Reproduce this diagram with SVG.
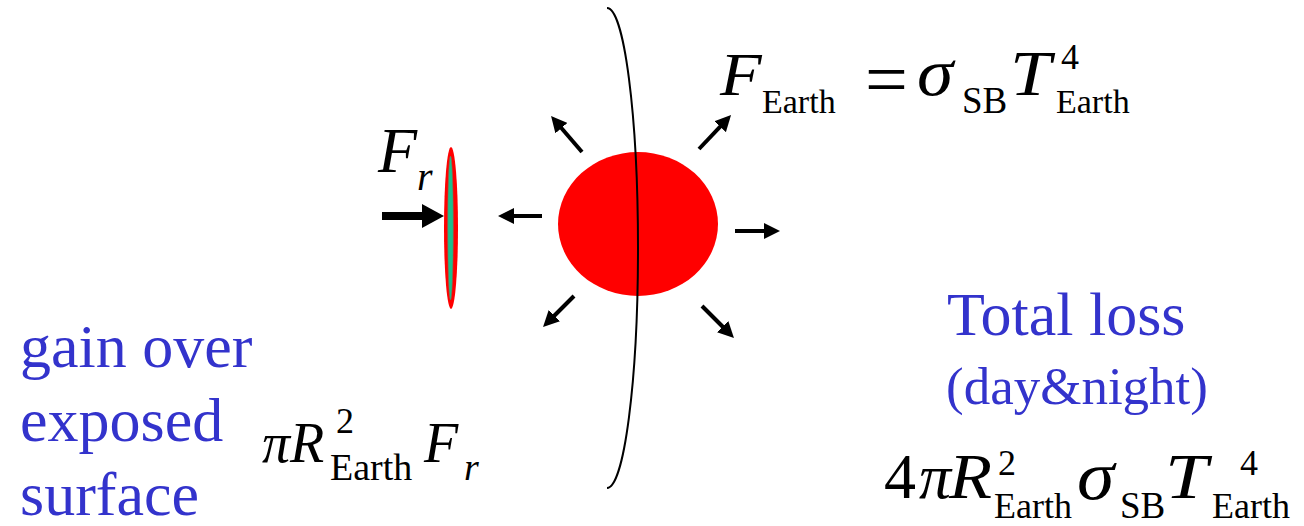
<svg xmlns="http://www.w3.org/2000/svg" width="1304" height="526" viewBox="0 0 1304 526">
<style>
.t{fill:#000}
.i{font-style:italic}
.blue{fill:#3333CC}
.arr{stroke:#000;stroke-width:4;fill:none}
</style>
<defs>
<marker id="ah" viewBox="0 0 4 4" refX="0.3" refY="2" markerWidth="4" markerHeight="4" markerUnits="strokeWidth" orient="auto">
<path d="M0,0 L4,2 L0,4 z" fill="#000"/>
</marker>
<marker id="ahb" viewBox="0 0 2.75 3" refX="0.1" refY="1.5" markerWidth="2.75" markerHeight="3" markerUnits="strokeWidth" orient="auto">
<path d="M0,0 L2.75,1.5 L0,3 z" fill="#000"/>
</marker>
</defs>
<rect width="1304" height="526" fill="#fff"/>

<g id="earth">
<ellipse cx="638" cy="224" rx="80" ry="72" fill="#FF0000"/>
</g>
<g id="terminator">
<path d="M607,8 A31,240 0 0 1 607,488" fill="none" stroke="#000" stroke-width="2"/>
</g>
<g id="disk">
<ellipse cx="451" cy="228" rx="7" ry="81" fill="#FF0000"/>
<ellipse cx="450.5" cy="228" rx="2.8" ry="72" fill="#1CBF8C" stroke="#8a6a50" stroke-width="0.6"/>
</g>

<g id="connectors">
<line class="arr" x1="582" y1="152" x2="560.7" y2="127.2" marker-end="url(#ah)"/>
<line class="arr" x1="699" y1="149" x2="720.9" y2="125.8" marker-end="url(#ah)"/>
<line class="arr" x1="574" y1="296" x2="553.5" y2="316.5" marker-end="url(#ah)"/>
<line class="arr" x1="702" y1="306" x2="723.5" y2="327.5" marker-end="url(#ah)"/>
<line class="arr" x1="542" y1="216" x2="512.8" y2="216" marker-end="url(#ah)"/>
<line class="arr" x1="735" y1="231" x2="765.2" y2="231" marker-end="url(#ah)"/>
<line x1="382" y1="216" x2="422.8" y2="216" stroke="#000" stroke-width="8" marker-end="url(#ahb)"/>
</g>

<g font-family="Liberation Serif, Tinos, Times New Roman, Times, serif">
<g id="label-Fr">
<text class="t i" x="378" y="172" font-size="64">F</text>
<text class="t i" x="417" y="190" font-size="40">r</text>
</g>

<g id="label-FEarth">
<text class="t i" font-size="62" transform="translate(720,95) scale(1.1,1)">F</text>
<text class="t" x="762" y="113" font-size="34">Earth</text>
<text class="t" x="865" y="105" font-size="76">=</text>
<text class="t i" font-size="68" transform="translate(917,95) scale(1.08,1)">σ</text>
<text class="t" x="962" y="113" font-size="37">SB</text>
<text class="t i" font-size="64" transform="translate(1010,95) scale(1.15,1)">T</text>
<text class="t" x="1061" y="69" font-size="36">4</text>
<text class="t" x="1056" y="113" font-size="34">Earth</text>
</g>

<g id="label-gain">
<text class="blue" x="20" y="367" font-size="62">gain over</text>
<text class="blue" x="20" y="441" font-size="62">exposed</text>
<text class="blue" x="20" y="515" font-size="62">surface</text>
</g>

<g id="formula-gain">
<text class="t i" x="262" y="462" font-size="56">π</text>
<text class="t i" x="290" y="462" font-size="56">R</text>
<text class="t" x="336" y="433" font-size="36">2</text>
<text class="t" x="330" y="480" font-size="38">Earth</text>
<text class="t i" x="424" y="462" font-size="56">F</text>
<text class="t i" x="464" y="480" font-size="38">r</text>
</g>

<g id="label-loss">
<text class="blue" x="947" y="335" font-size="62">Total loss</text>
<text class="blue" x="946" y="404" font-size="53">(day&amp;night)</text>
</g>

<g id="formula-loss">
<text class="t" x="884" y="498" font-size="64">4</text>
<text class="t i" x="919" y="498" font-size="64">π</text>
<text class="t i" font-size="64" transform="translate(949,498) scale(1.1,1)">R</text>
<text class="t" x="998" y="475" font-size="36">2</text>
<text class="t" x="994" y="518" font-size="36">Earth</text>
<text class="t i" font-size="70" transform="translate(1077,499) scale(1.08,1)">σ</text>
<text class="t" x="1120" y="518" font-size="37">SB</text>
<text class="t i" font-size="64" transform="translate(1165,498) scale(1.2,1)">T</text>
<text class="t" x="1240" y="475" font-size="36">4</text>
<text class="t" x="1212" y="518" font-size="36">Earth</text>
</g>
</g>
</svg>
